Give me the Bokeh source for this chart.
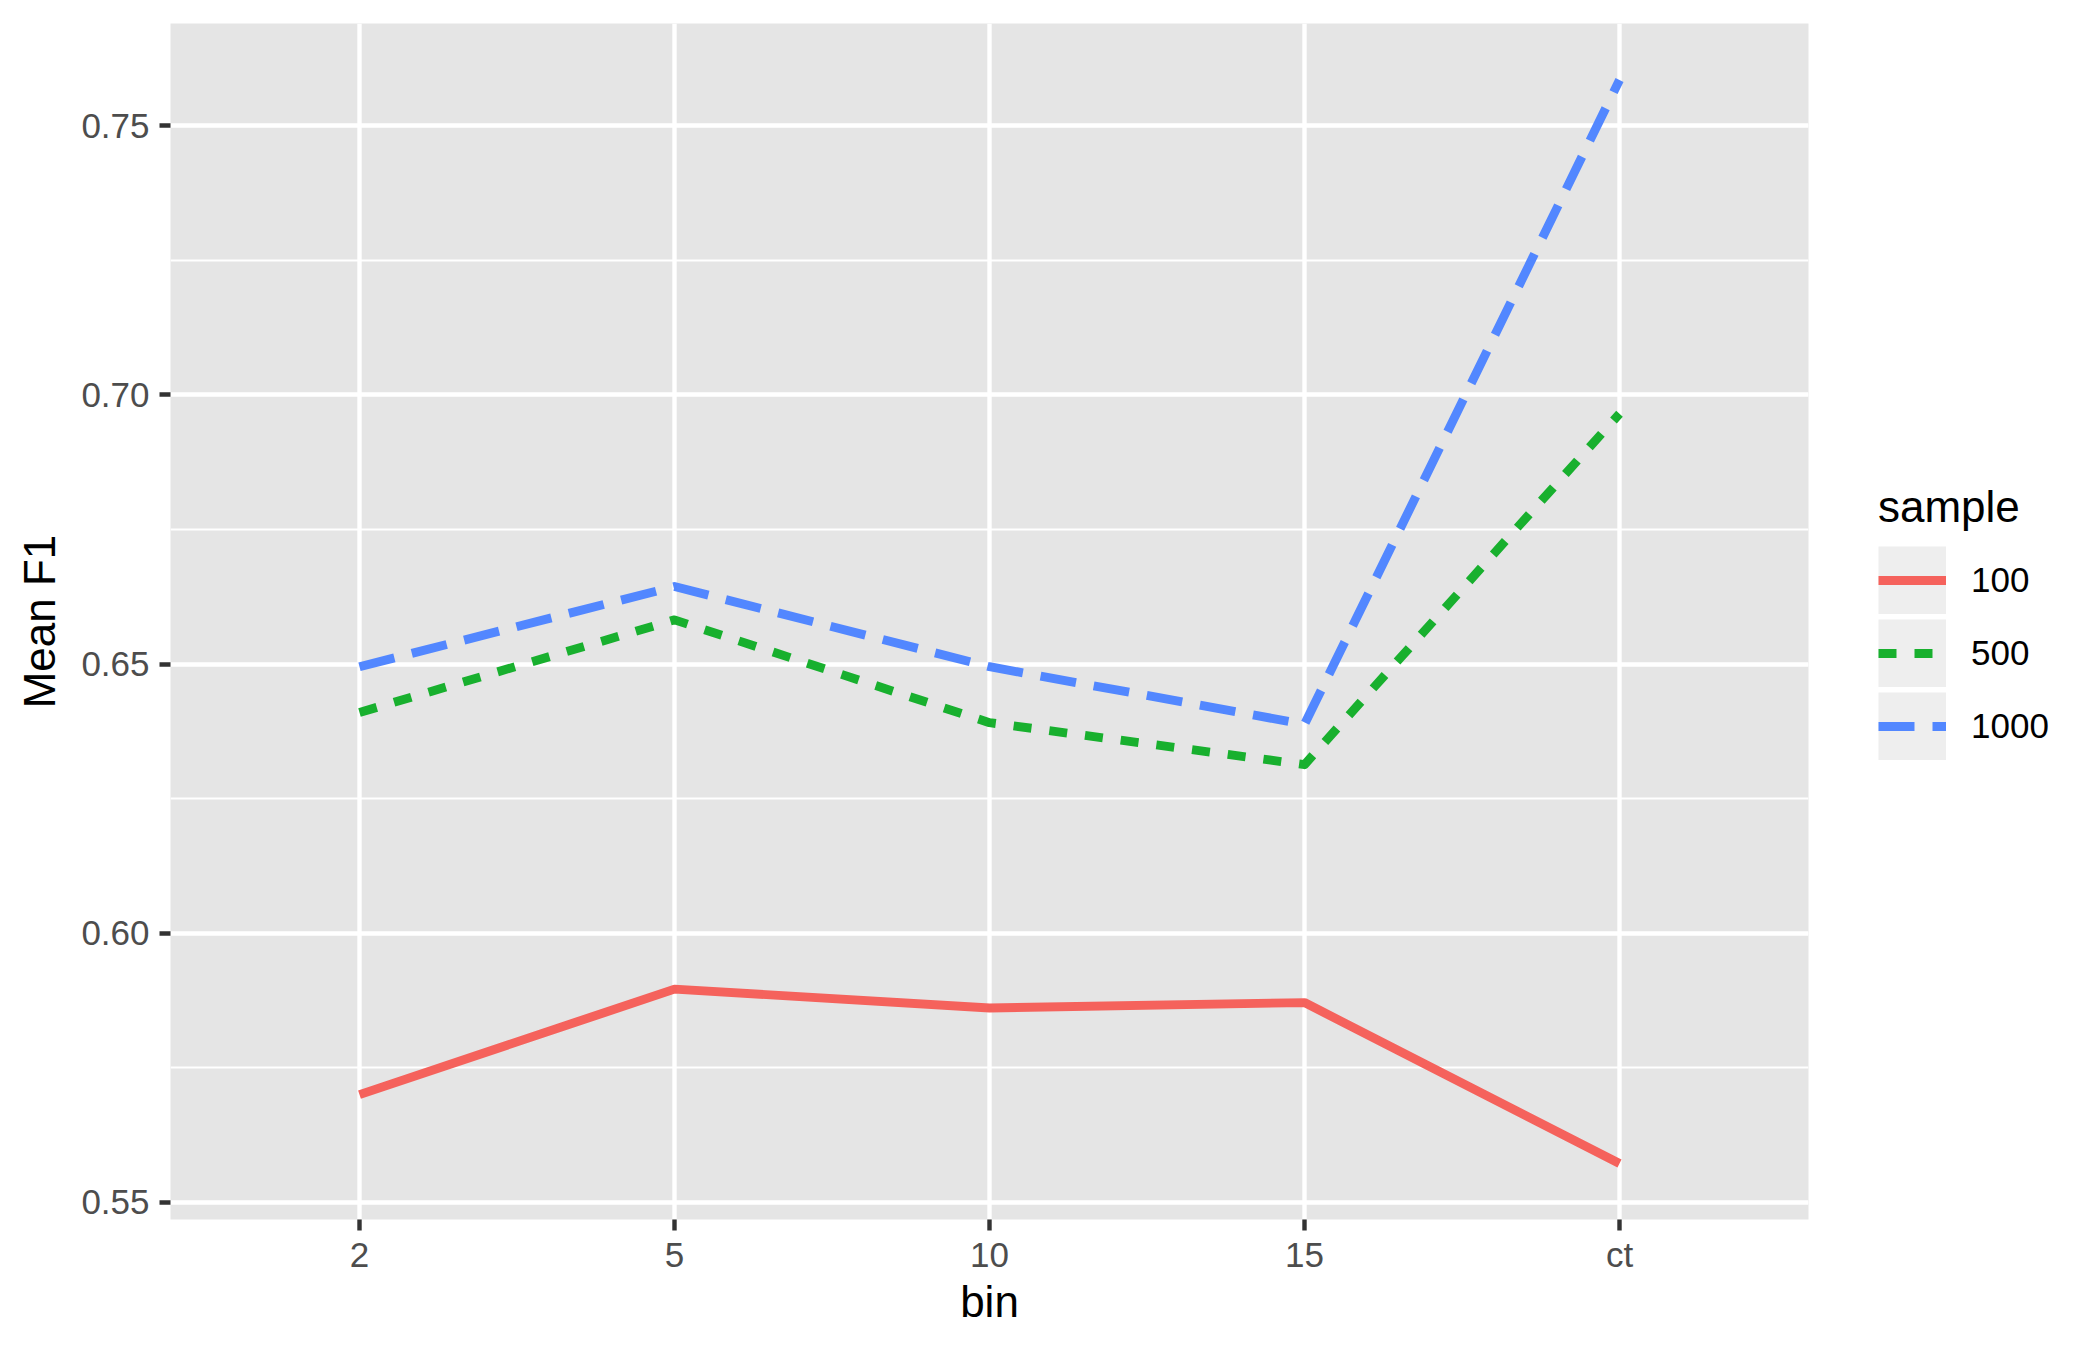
from bokeh.plotting import figure
from bokeh.models import (FactorRange, Range1d, SingleIntervalTicker,
                          PrintfTickFormatter, Legend, LegendItem)
from bokeh.embed import file_html
from bokeh.resources import INLINE

# ---- data ----
bins = ["2", "5", "10", "15", "ct"]
samples = ["100", "500", "1000"]
f1_100 = [0.5700, 0.5896, 0.5861, 0.5871, 0.5572]
f1_500 = [0.6410, 0.6582, 0.6391, 0.6313, 0.6965]
f1_1000 = [0.6495, 0.6644, 0.6495, 0.6388, 0.7585]
series = [f1_100, f1_500, f1_1000]

colors = ["#F5625C", "#18B02E", "#5287FF"]
dashes = ["solid", "18 18", "36 18"]

FONT = "Liberation Sans"

p = figure(
    x_range=FactorRange(factors=bins, range_padding=0.1, range_padding_units="absolute"),
    y_range=Range1d(0.5468, 0.7690),
    frame_width=1638, frame_height=1196,
    min_border_left=170, min_border_right=276,
    min_border_top=23, min_border_bottom=115,
    output_backend="svg", toolbar_location=None,
    background_fill_color="#E5E5E5", border_fill_color="white",
)
p.outline_line_color = None

ticker = SingleIntervalTicker(interval=0.05, num_minor_ticks=2)
p.yaxis.ticker = ticker
p.ygrid.ticker = ticker
p.yaxis.formatter = PrintfTickFormatter(format="%.2f")

for g in (p.xgrid, p.ygrid):
    g.grid_line_color = "white"
    g.grid_line_width = 4.4
p.ygrid.minor_grid_line_color = "white"
p.ygrid.minor_grid_line_width = 2.2

for ax in (p.xaxis, p.yaxis):
    ax.axis_line_color = None
    ax.major_tick_line_color = "#333333"
    ax.major_tick_line_width = 4.4
    ax.major_tick_out = 11
    ax.major_tick_in = 0
    ax.minor_tick_line_color = None
    ax.major_label_text_font = FONT
    ax.major_label_text_font_size = "35px"
    ax.major_label_text_color = "#4D4D4D"
    ax.axis_label_text_font = FONT
    ax.axis_label_text_font_size = "44px"
    ax.axis_label_text_font_style = "normal"
    ax.axis_label_text_color = "black"

p.xaxis.axis_label = "bin"
p.yaxis.axis_label = "Mean F1"
p.xaxis.major_label_standoff = 4
p.yaxis.major_label_standoff = 10
p.xaxis.axis_label_standoff = 0
p.yaxis.axis_label_standoff = 14

# legend key background: no visible marks in the plot, only drawn in the legend
key_bg = p.line(x=bins, y=[float("nan")] * len(bins), line_color="#EEEEEE", line_width=68)

renderers = []
for vals, c, d in zip(series, colors, dashes):
    r = p.line(x=bins, y=vals, line_color=c, line_width=8.9,
               line_dash=d, line_join="round", line_cap="butt")
    renderers.append(r)

items = [LegendItem(label=s, renderers=[key_bg, r]) for s, r in zip(samples, renderers)]
legend = Legend(
    items=items, title="sample", location="left", orientation="vertical",
    glyph_width=68, glyph_height=68, label_height=68, spacing=5,
    label_standoff=25, padding=0, margin=70,
    border_line_color=None, background_fill_alpha=0,
    title_text_font=FONT, title_text_font_size="44px", title_text_font_style="normal",
    title_text_color="black", title_standoff=14,
    label_text_font=FONT, label_text_font_size="35px", label_text_color="black",
)
p.add_layout(legend, "right")

open("out.html", "w").write(file_html(p, INLINE))
